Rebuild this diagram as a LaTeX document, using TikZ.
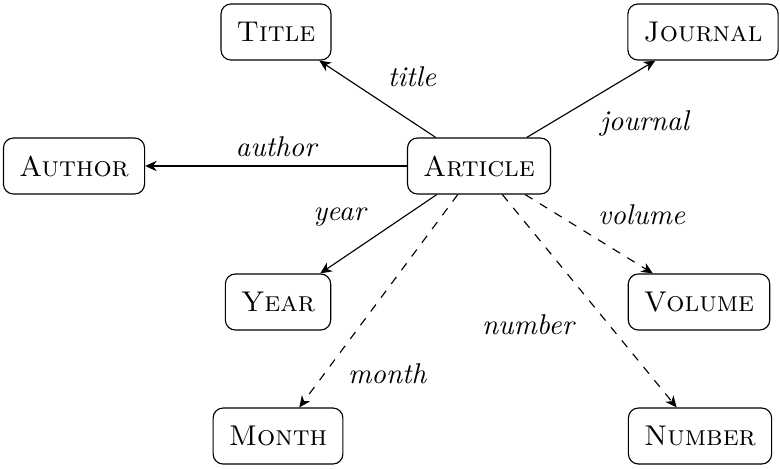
\documentclass[tikz,border=0pt]{standalone}
\usetikzlibrary{arrows.meta,positioning}
\begin{document}
\begin{tikzpicture}[x=0.35pt,y=-0.35pt,
  entity/.style={draw, rounded corners=3.5pt, inner xsep=5.5pt, minimum height=19.6pt, font=\scshape},
  rel/.style={-{Stealth[length=4pt,width=3.6pt,inset=1.2pt]}, thin},
  opt/.style={rel, dashed},
  lbl/.style={font=\itshape, inner sep=2pt}]
\useasboundingbox (0,0) rectangle (780,468);
\node[entity] (article) at (479,166) {Article};
\node[entity] (title)   at (276,32)  {Title};
\node[entity] (journal) at (703,32)  {Journal};
\node[entity] (author)  at (74,166)  {Author};
\node[entity] (year)    at (278,302) {Year};
\node[entity] (volume)  at (699,302) {Volume};
\node[entity] (month)   at (278,436) {Month};
\node[entity] (number)  at (700,436) {Number};

\draw[rel] (article) -- node[lbl, pos=0.5, above right=2pt and 1.4pt] {title} (title);
\draw[rel] (article) -- node[lbl, pos=0.5, below right=2pt and 1pt] {journal} (journal);
\draw[rel] (article) -- node[lbl, above=1pt] {author} (author);
\draw[rel] (article) -- node[lbl, pos=0.55, above left=2pt and 0.3pt] {year} (year);
\draw[opt] (article) -- node[lbl, pos=0.84, right=6pt] {month} (month);
\draw[opt] (article) -- node[lbl, pos=0.5, above right=1pt and 1pt] {volume} (volume);
\draw[opt] (article) -- node[lbl, pos=0.61, left=10pt] {number} (number);
\end{tikzpicture}
\end{document}
